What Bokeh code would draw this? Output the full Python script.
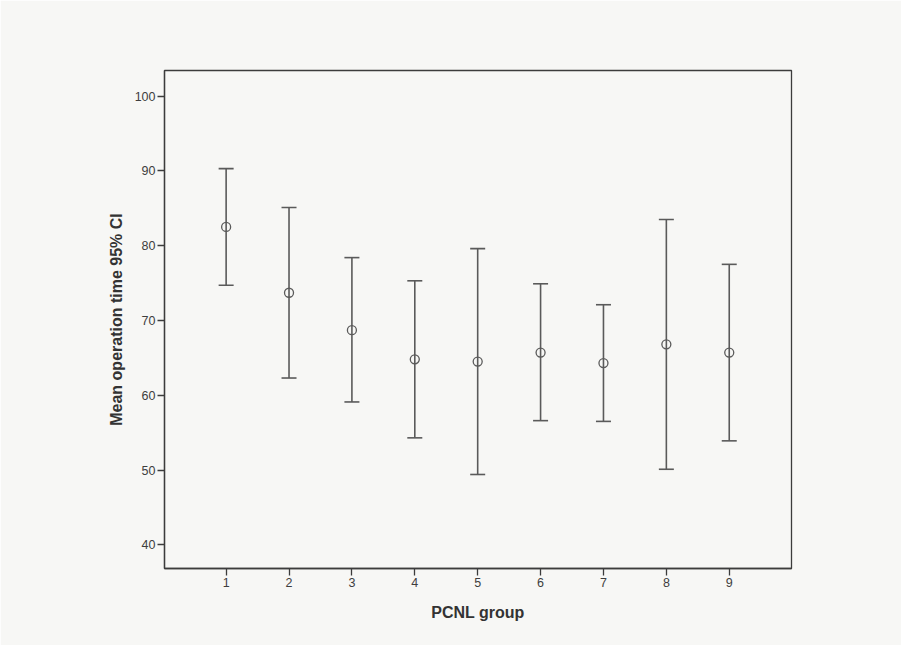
from bokeh.plotting import figure
from bokeh.models import ColumnDataSource, Whisker, TeeHead, FixedTicker, Range1d
from bokeh.embed import file_html
from bokeh.resources import INLINE

groups = [1, 2, 3, 4, 5, 6, 7, 8, 9]
means = [82.5, 73.7, 68.7, 64.8, 64.5, 65.7, 64.3, 66.8, 65.7]
lower = [74.7, 62.3, 59.1, 54.3, 49.4, 56.6, 56.5, 50.1, 53.9]
upper = [90.3, 85.1, 78.4, 75.3, 79.6, 74.9, 72.1, 83.5, 77.5]
y_ticks = [40, 50, 60, 70, 80, 90, 100]

BG = "#f7f7f5"
FRAME = "#3c3c3c"
MARK = "#5a5a5a"
FONT = "Liberation Sans"

src = ColumnDataSource(dict(x=groups, mean=means, lower=lower, upper=upper))

p = figure(width=901, height=645, output_backend="svg", toolbar_location=None,
           x_range=Range1d(0.02, 9.99), y_range=Range1d(36.83, 103.42),
           min_border_left=164, min_border_right=110, min_border_top=70, min_border_bottom=77)

p.background_fill_color = BG
p.border_fill_color = BG
p.outline_line_color = FRAME
p.outline_line_width = 1.3
p.grid.visible = False

w = Whisker(source=src, base="x", upper="upper", lower="lower",
            line_color=MARK, line_width=1.6,
            upper_head=TeeHead(size=15, line_color=MARK, line_width=1.6),
            lower_head=TeeHead(size=15, line_color=MARK, line_width=1.6))
p.add_layout(w)
p.scatter("x", "mean", source=src, marker="circle", size=9,
          fill_color=None, line_color=MARK, line_width=1.3)

p.xaxis.ticker = FixedTicker(ticks=groups)
p.yaxis.ticker = FixedTicker(ticks=y_ticks)
for ax in (p.xaxis, p.yaxis):
    ax.axis_line_color = FRAME
    ax.axis_line_width = 1.3
    ax.major_tick_line_color = FRAME
    ax.major_tick_line_width = 1.3
    ax.major_tick_in = 0
    ax.major_tick_out = 7
    ax.minor_tick_line_color = None
    ax.major_label_text_font = FONT
    ax.major_label_text_font_size = "12.5px"
    ax.major_label_text_color = "#3e3e3e"
    ax.major_label_standoff = 2
    ax.axis_label_text_font = FONT
    ax.axis_label_text_font_style = "bold"
    ax.axis_label_text_font_size = "16px"
    ax.axis_label_text_color = "#333333"

p.xaxis.axis_label = "PCNL group"
p.yaxis.axis_label = "Mean operation time 95% CI"
p.xaxis.axis_label_standoff = 14
p.yaxis.axis_label_standoff = 7

open("out.html", "w").write(file_html(p, INLINE))
